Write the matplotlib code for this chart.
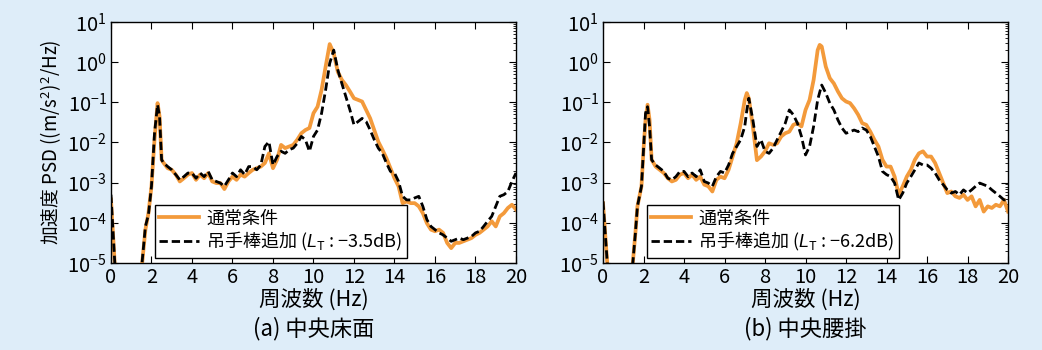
import numpy as np
import matplotlib
matplotlib.use("Agg")
import matplotlib.pyplot as plt
from matplotlib.ticker import LogLocator, NullFormatter

plt.rcParams['font.family'] = ['Noto Sans CJK JP', 'DejaVu Sans']
plt.rcParams['mathtext.fontset'] = 'custom'
plt.rcParams['mathtext.rm'] = 'Noto Sans CJK JP'
plt.rcParams['mathtext.it'] = 'Liberation Sans:italic'
plt.rcParams['axes.unicode_minus'] = True

# frequency grids (Hz)
freq_a = [0, 0.3, 1.35, 1.7, 1.85, 2.0, 2.15, 2.3, 2.4, 2.5] + \
    [round(v, 1) for v in np.arange(2.6, 20.01, 0.2)]
freq_b = [0, 0.35, 1.3, 1.6, 1.7, 1.9, 2.0, 2.1, 2.2, 2.3, 2.4] + \
    [round(v, 1) for v in np.arange(2.6, 7.01, 0.2)] + [7.1] + \
    [round(v, 1) for v in np.arange(7.2, 10.61, 0.2)] + [10.7] + \
    [round(v, 1) for v in np.arange(10.8, 20.01, 0.2)]

# log10 of PSD ((m/s^2)^2/Hz)
a_normal = [-3.42, -6, -6, -4.17, -3.76, -3.09, -1.93, -1.02, -1.35, -2.43,
            -2.51, -2.64, -2.68, -2.80, -2.97, -2.89, -2.80, -2.76, -2.93, -2.80,
            -2.89, -2.76, -2.97, -3.01, -3.01, -3.16, -2.97, -2.85, -2.93, -2.80,
            -2.85, -2.76, -2.68, -2.64, -2.60, -2.51, -2.27, -2.64, -2.43, -2.06,
            -2.14, -2.10, -2.06, -1.93, -1.77, -1.69, -1.64, -1.27, -1.11, -0.69,
            -0.11, 0.45, 0.22, -0.24, -0.44, -0.57, -0.73, -0.90, -0.94, -0.98,
            -1.19, -1.40, -1.69, -1.98, -2.18, -2.39, -2.64, -2.89, -3.09, -3.51,
            -3.47, -3.51, -3.51, -3.59, -3.76, -4.01, -4.17, -4.21, -4.17, -4.25,
            -4.50, -4.63, -4.50, -4.50, -4.46, -4.42, -4.38, -4.30, -4.25, -4.17,
            -4.09, -3.96, -4.09, -3.84, -3.76, -3.63, -3.55, -3.67]
a_rod = [-3.30, -6, -6, -4.09, -3.80, -3.09, -1.77, -1.06, -1.35, -2.43,
         -2.51, -2.60, -2.68, -2.80, -2.93, -2.85, -2.76, -2.76, -2.89, -2.76,
         -2.85, -2.72, -2.93, -2.97, -3.01, -3.09, -2.93, -2.76, -2.85, -2.68,
         -2.80, -2.60, -2.60, -2.68, -2.56, -2.10, -1.98, -2.56, -2.35, -2.22,
         -2.27, -2.18, -2.14, -2.02, -1.85, -1.93, -2.22, -1.85, -1.69, -1.27,
         -0.69, -0.03, 0.30, -0.19, -0.53, -0.86, -1.19, -1.56, -1.48, -1.40,
         -1.48, -1.69, -1.93, -2.14, -2.27, -2.51, -2.72, -2.76, -2.97, -3.34,
         -3.43, -3.43, -3.38, -3.34, -3.59, -3.92, -4.09, -4.17, -4.25, -4.30,
         -4.38, -4.46, -4.42, -4.38, -4.42, -4.38, -4.34, -4.25, -4.21, -4.09,
         -3.96, -3.84, -3.59, -3.34, -3.30, -3.22, -2.97, -2.76]

b_normal = [-3.51, -6, -6, -4.25, -3.59, -3.09, -2.18, -1.44, -1.06, -1.44, -2.43,
            -2.60, -2.68, -2.76, -2.89, -2.97, -2.93, -2.80, -2.76, -2.89, -2.80,
            -2.93, -2.85, -3.05, -3.09, -3.22, -2.93, -2.85, -2.89, -2.68, -2.35,
            -2.02, -1.52, -0.94, -0.77,
            -0.90, -1.60, -2.44, -2.35, -2.22, -2.02, -2.06, -2.02, -1.85, -1.77,
            -1.73, -1.56, -1.52, -1.60, -1.19, -0.94, -0.44, 0.30, 0.43,
            0.39, -0.11, -0.40, -0.53, -0.73, -0.90, -0.98, -1.02, -1.15, -1.31,
            -1.52, -1.56, -1.73, -1.93, -2.10, -2.43, -2.60, -2.60, -2.85, -3.30,
            -3.09, -2.85, -2.68, -2.43, -2.27, -2.22, -2.35, -2.35, -2.51, -2.76,
            -3.01, -3.26, -3.22, -3.34, -3.38, -3.30, -3.43, -3.34, -3.59, -3.43,
            -3.72, -3.59, -3.63, -3.55, -3.59, -3.43, -3.72]
b_rod = [-3.47, -6, -6, -4.25, -3.59, -3.09, -2.18, -1.27, -1.11, -1.60, -2.43,
         -2.56, -2.64, -2.72, -2.89, -2.93, -2.85, -2.72, -2.72, -2.85, -2.76,
         -2.85, -2.68, -2.97, -3.01, -3.09, -2.85, -2.72, -2.76, -2.56, -2.27,
         -2.10, -1.93, -1.60, -1.20,
         -0.90, -1.44, -2.10, -1.93, -2.22, -2.27, -2.14, -1.93, -1.73, -1.52,
         -1.19, -1.31, -1.52, -1.85, -2.31, -2.10, -1.60, -0.94, -0.75,
         -0.57, -0.77, -1.02, -1.19, -1.44, -1.64, -1.77, -1.73, -1.69, -1.73,
         -1.64, -1.69, -1.85, -2.10, -2.35, -2.72, -2.80, -2.85, -3.01, -3.43,
         -3.26, -3.01, -2.85, -2.68, -2.51, -2.56, -2.56, -2.64, -2.76, -2.93,
         -3.05, -3.18, -3.26, -3.22, -3.30, -3.18, -3.26, -3.18, -3.09, -3.01,
         -3.05, -3.09, -3.18, -3.26, -3.34, -3.43, -3.43]

panels = [
    (freq_a, a_normal, a_rod, "−3.5dB", "(a) 中央床面"),
    (freq_b, b_normal, b_rod, "−6.2dB", "(b) 中央腰掛"),
]

bg = '#DEEDF9'
orange = '#F39A3B'

fig = plt.figure(figsize=(10.42, 3.5), dpi=100, facecolor=bg)
lefts = [0.1065, 0.5787]

for i, (f, yn, yr, lt, cap) in enumerate(panels):
    ax = fig.add_axes([lefts[i], 0.2486, 0.3887, 0.6886])
    ax.set_facecolor('white')
    ax.plot(f, 10 ** np.array(yn), color=orange, lw=2.7, label='通常条件',
            solid_joinstyle='round')
    ax.plot(f, 10 ** np.array(yr), color='black', lw=2.0, dashes=(3.0, 1.4),
            label=r'吊手棒追加 ($L_{\mathrm{T}}$ : ' + lt + ')')
    ax.set_yscale('log')
    ax.set_xlim(0, 20)
    ax.set_ylim(1e-5, 1e1)
    ax.set_xticks(range(0, 21, 2))
    ax.yaxis.set_major_locator(LogLocator(base=10, numticks=10))
    ax.yaxis.set_minor_locator(LogLocator(base=10, subs=np.arange(2, 10), numticks=10))
    ax.yaxis.set_minor_formatter(NullFormatter())
    ax.tick_params(which='major', direction='in', length=5, width=0.8,
                   top=True, right=True, labelsize=14.5, pad=3)
    ax.tick_params(axis='y', which='minor', direction='in', length=2.5, width=0.6,
                   left=False, right=True)
    for s in ax.spines.values():
        s.set_linewidth(1.0)
    ax.set_xlabel('周波数 (Hz)', fontsize=15.5, labelpad=0)
    ax.text(0.5, -0.225, cap, transform=ax.transAxes, ha='center', va='top',
            fontsize=16)
    if i == 0:
        ax.set_ylabel('加速度 PSD ((m/s$^2$)$^2$/Hz)', fontsize=13.5, labelpad=3)
    leg = ax.legend(loc='lower left', bbox_to_anchor=(0.108, 0.022),
                    borderaxespad=0, fontsize=13, frameon=True, fancybox=False,
                    edgecolor='black', framealpha=1, handlelength=2.2,
                    handletextpad=0.4, borderpad=0.25, labelspacing=0.15)
    leg.get_frame().set_linewidth(1.0)

fig.savefig('out.png', dpi=100, facecolor=bg)
